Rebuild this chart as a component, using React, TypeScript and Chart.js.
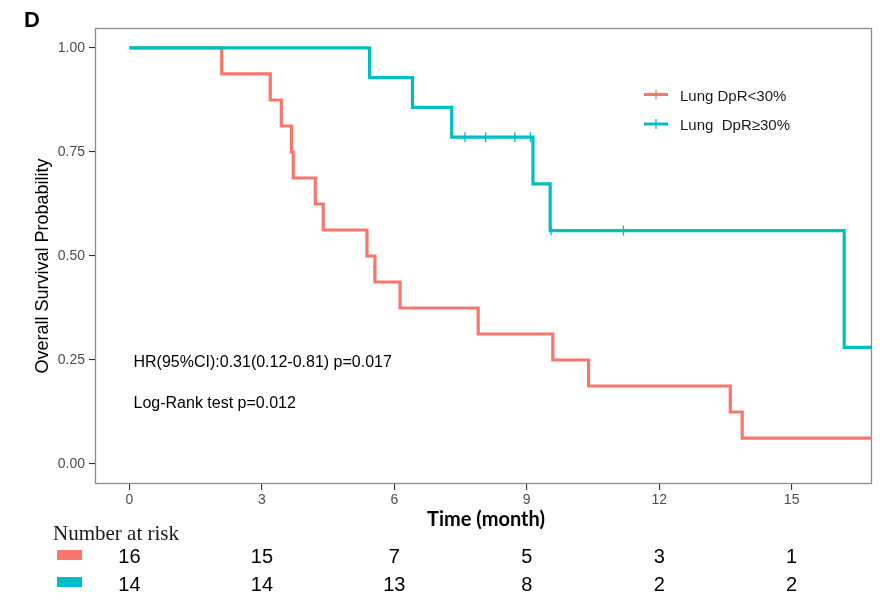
import React, { useEffect, useRef } from "react";
import { Chart, registerables } from "chart.js";

Chart.register(...registerables);

// Group colours (ggplot defaults)
const RED = "#F8766D";
const TEAL = "#00BFC4";

// Visible time window (months)
const X_MIN = -0.78;
const X_MAX = 16.82;

// Kaplan–Meier steps: Lung DpR<30%
const lowTimes = [0, 2.09, 3.19, 3.44, 3.67, 3.71, 4.21, 4.39, 5.38, 5.56, 6.13, 7.9, 9.59, 10.4, 13.61, 13.88];
const lowSurv = [1, 0.9375, 0.875, 0.8125, 0.75, 0.6875, 0.625, 0.5625, 0.5, 0.4375, 0.375, 0.3125, 0.25, 0.1875, 0.125, 0.0625];

// Kaplan–Meier steps: Lung DpR≥30%
const highTimes = [0, 5.44, 6.41, 7.3, 9.14, 9.53, 16.19];
const highSurv = [1, 0.9286, 0.8571, 0.7857, 0.6735, 0.5612, 0.2806];

// Censored observations: Lung DpR≥30%
const highCensorTimes = [7.6, 8.07, 8.73, 9.08, 9.55, 11.19];
const highCensorSurv = [0.7857, 0.7857, 0.7857, 0.7857, 0.5612, 0.5612];

// Number-at-risk table
const riskTimes = [0, 3, 6, 9, 12, 15];
const riskLow = [16, 15, 7, 5, 3, 1];
const riskHigh = [14, 14, 13, 8, 2, 2];

const yTicks = [0, 0.25, 0.5, 0.75, 1];

const groupLabels = ["Lung DpR<30%", "Lung  DpR\u226530%"];
const annotations = ["HR(95%CI):0.31(0.12-0.81) p=0.017", "Log-Rank test p=0.012"];

const SANS = "'Liberation Sans', Arial, sans-serif";

function stepData(times: number[], surv: number[]) {
  const pts = times.map((t, i) => ({ x: t, y: surv[i] }));
  pts.push({ x: X_MAX, y: surv[surv.length - 1] });
  return pts;
}

const decorations = {
  id: "kmDecorations",
  beforeDatasetsDraw(chart: any) {
    const { ctx, chartArea: ca } = chart;
    ctx.save();
    ctx.strokeStyle = "#8c8c8c";
    ctx.lineWidth = 1.3;
    ctx.strokeRect(ca.left + 0.5, ca.top + 0.5, ca.right - ca.left - 1, ca.bottom - ca.top - 1);
    ctx.restore();
  },
  afterDraw(chart: any) {
    const { ctx } = chart;
    const xs = chart.scales.x;
    ctx.save();

    // Panel letter
    ctx.fillStyle = "#000";
    ctx.font = `bold 22px ${SANS}`;
    ctx.textAlign = "left";
    ctx.textBaseline = "alphabetic";
    ctx.fillText("D", 24, 27);

    // Y axis title
    ctx.save();
    ctx.translate(48, 266);
    ctx.rotate(-Math.PI / 2);
    ctx.font = `18px ${SANS}`;
    ctx.textAlign = "center";
    ctx.fillStyle = "#000";
    ctx.fillText("Overall Survival Probability", 0, 0);
    ctx.restore();

    // X axis title
    ctx.font = `bold 20px Lato, ${SANS}`;
    ctx.textAlign = "center";
    ctx.fillStyle = "#000";
    ctx.fillText("Time (month)", 486, 526);

    // Legend
    const legendRows = [
      { color: RED, label: groupLabels[0], y: 94.5 },
      { color: TEAL, label: groupLabels[1], y: 124 },
    ];
    legendRows.forEach((r) => {
      ctx.strokeStyle = r.color;
      ctx.lineWidth = 3;
      ctx.beginPath();
      ctx.moveTo(644, r.y);
      ctx.lineTo(668, r.y);
      ctx.stroke();
      ctx.lineWidth = 1.2;
      ctx.beginPath();
      ctx.moveTo(656, r.y - 5);
      ctx.lineTo(656, r.y + 5);
      ctx.stroke();
      ctx.fillStyle = "#1a1a1a";
      ctx.font = `15px ${SANS}`;
      ctx.textAlign = "left";
      ctx.fillText(r.label, 680, r.y + 6);
    });

    // Statistics text
    ctx.font = `16px ${SANS}`;
    ctx.fillStyle = "#000";
    ctx.textAlign = "left";
    ctx.fillText(annotations[0], 133.5, 366.5);
    ctx.fillText(annotations[1], 133.5, 408);

    // Number at risk table
    ctx.font = `21px 'Liberation Serif', 'Times New Roman', serif`;
    ctx.fillStyle = "#1a1a1a";
    ctx.fillText("Number at risk", 53, 540);

    ctx.fillStyle = RED;
    ctx.fillRect(57, 550, 25, 10);
    ctx.fillStyle = TEAL;
    ctx.fillRect(57, 577, 25, 10);

    ctx.font = `20px ${SANS}`;
    ctx.textAlign = "center";
    ctx.fillStyle = "#000";
    riskTimes.forEach((t, i) => {
      const px = xs.getPixelForValue(t);
      ctx.fillText(String(riskLow[i]), px, 563);
      ctx.fillText(String(riskHigh[i]), px, 590.5);
    });

    ctx.restore();
  },
};

export default function App() {
  const canvasRef = useRef<HTMLCanvasElement | null>(null);

  useEffect(() => {
    const canvas = canvasRef.current;
    if (!canvas) return;
    const chart = new Chart(canvas, {
      type: "line",
      data: {
        datasets: [
          {
            type: "scatter",
            label: "censored",
            data: highCensorTimes.map((t, i) => ({ x: t, y: highCensorSurv[i] })),
            borderColor: TEAL,
            backgroundColor: TEAL,
            pointStyle: "line",
            rotation: 90,
            pointRadius: 5,
            pointBorderWidth: 1.3,
            showLine: false,
          } as any,
          {
            label: groupLabels[1],
            data: stepData(highTimes, highSurv),
            borderColor: TEAL,
            borderWidth: 3.2,
            stepped: "before",
            pointRadius: 0,
            fill: false,
          },
          {
            label: groupLabels[0],
            data: stepData(lowTimes, lowSurv),
            borderColor: RED,
            borderWidth: 3.2,
            stepped: "before",
            pointRadius: 0,
            fill: false,
          },
        ],
      },
      options: {
        responsive: false,
        animation: false,
        events: [],
        layout: { padding: { left: 0, right: 18, top: 28, bottom: 82 } },
        plugins: {
          legend: { display: false },
          tooltip: { enabled: false },
        },
        scales: {
          x: {
            type: "linear",
            min: X_MIN,
            max: X_MAX,
            afterBuildTicks: (s: any) => {
              s.ticks = riskTimes.map((v) => ({ value: v }));
            },
            afterFit: (s: any) => {
              s.height = 40;
            },
            grid: {
              display: true,
              drawOnChartArea: false,
              drawTicks: true,
              tickLength: 6,
              color: "#333333",
              lineWidth: 1.1,
            },
            border: { display: false },
            ticks: {
              color: "#4d4d4d",
              font: { family: SANS, size: 14 },
              padding: 2,
              maxRotation: 0,
              callback: (v: any) => String(v),
            },
          },
          y: {
            type: "linear",
            min: -0.048,
            max: 1.048,
            afterBuildTicks: (s: any) => {
              s.ticks = yTicks.map((v) => ({ value: v }));
            },
            afterFit: (s: any) => {
              s.width = 95;
            },
            grid: {
              display: true,
              drawOnChartArea: false,
              drawTicks: true,
              tickLength: 6,
              color: "#333333",
              lineWidth: 1.1,
            },
            border: { display: false },
            ticks: {
              color: "#4d4d4d",
              font: { family: SANS, size: 14 },
              padding: 4,
              callback: (v: any) => Number(v).toFixed(2),
            },
          },
        },
      },
      plugins: [decorations],
    });
    return () => chart.destroy();
  }, []);

  return (
    <div style={{ position: "absolute", left: 0, top: 0, width: 890, height: 606, background: "#fff" }}>
      <canvas ref={canvasRef} width={890} height={606} style={{ display: "block" }} />
    </div>
  );
}
